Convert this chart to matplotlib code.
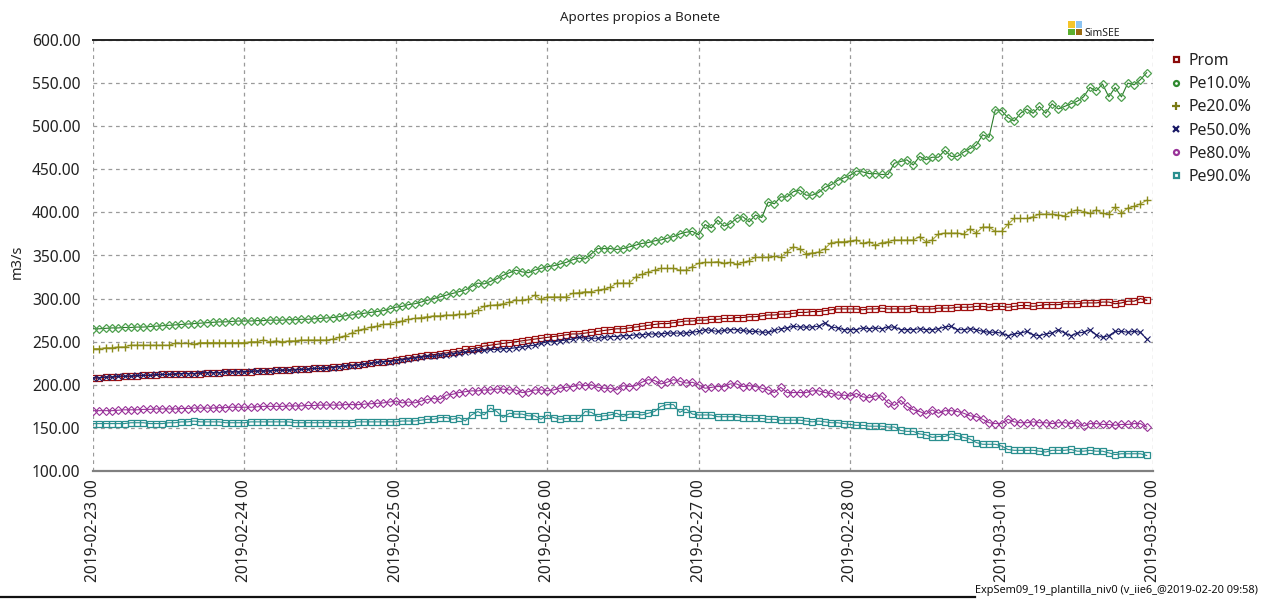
import matplotlib
matplotlib.use("Agg")
import matplotlib.pyplot as plt
import matplotlib.dates as mdates
from matplotlib.lines import Line2D
from matplotlib.patches import Rectangle
import pandas as pd

plt.rcParams['font.family'] = ['Noto Sans', 'DejaVu Sans']

title = "Aportes propios a Bonete"
ylabel = "m3/s"
footer = "ExpSem09_19_plantilla_niv0 (v_iie6_@2019-02-20 09:58)"
start = "2019-02-23 00:00"
end = "2019-03-02 00:00"
n_hours = 168
series_names = ["Prom", "Pe10.0%", "Pe20.0%", "Pe50.0%", "Pe80.0%", "Pe90.0%"]

prom = [
    208,208,209,209,209,210,210,210,211,211,211,212,212,212,213,213,213,213,214,214,214,215,215,215,
    215,215,216,216,216,217,217,217,218,218,218,219,219,220,221,221,222,223,223,224,225,226,227,228,
    229,230,231,232,233,234,235,236,237,238,239,241,242,243,245,246,247,248,249,250,251,252,253,254,
    255,256,257,258,259,259,260,261,262,263,264,265,265,266,267,268,269,270,271,271,272,273,274,274,
    275,275,276,276,277,277,278,278,279,279,280,281,281,282,282,283,284,284,285,285,286,287,288,288,
    288,288,287,288,288,289,288,288,288,288,289,288,288,288,289,289,289,290,290,290,291,291,290,291,
    291,290,291,292,292,291,292,293,293,293,294,294,294,295,295,295,296,296,294,295,297,297,300,298,
]
pe10 = [
    265,265,265.5,266,266,266.5,266.5,267,267,267.5,268,268.5,269,269.5,270,270.5,271,271.5,272,272.5,273,273,273.5,274,
    274,274,274.5,274.5,275,275,275,275.5,275.5,276,276,276.5,277,277.5,278,279,280,281,282,283,284,285,286,288,
    290,291,293,294,296,298,300,302,304,306,308,310,314,318,317,320,323,327,330,333,331,330,333,335,
    337,338,340,342,345,347,346,352,358,358,358,357,358,360,362,364,365,367,368,370,372,375,377,378,
    374,386,382,391,384,387,393,395,389,397,394,412,410,418,418,424,426,420,420,423,429,432,437,440,
    443,448,447,445,445,444,444,457,459,461,455,465,461,464,464,472,465,465,470,474,478,490,487,519,
    518,510,506,515,520,515,523,515,526,520,523,526,529,534,545,541,549,534,545,534,550,548,554,562,
]
pe20 = [
    242,242,243,243,244,244,246,246,246,246,246,246,246,248,248,248,247,249,249,249,249,249,249,249,
    249,250,250,252,250,251,250,251,251,252,252,252,252,252,253,255,257,260,263,265,267,268,270,271,
    273,274,276,277,278,279,280,280,281,281,282,282,283,287,291,292,293,294,296,298,298,299,304,299,
    302,302,302,302,306,307,308,308,310,311,313,318,318,318,325,328,331,333,335,335,335,333,333,337,
    341,342,342,343,341,342,340,342,344,348,348,348,349,348,354,360,358,352,353,354,358,365,366,366,
    367,368,364,366,362,365,366,368,368,368,368,372,366,368,375,376,376,376,375,381,376,383,383,378,
    378,386,393,393,393,395,398,398,398,397,396,401,403,401,399,403,399,398,406,399,405,407,410,414,
]
pe50 = [
    208,208,209,209,210,210,210,211,211,211,212,212,212,213,213,213,213,214,214,214,214,215,215,215,
    215,216,216,216,216,217,217,217,217,218,218,219,219,219,220,221,222,222,223,224,225,226,227,227,
    228,229,230,231,232,233,233,234,235,236,237,238,239,240,240,241,241,242,242,243,244,245,246,248,
    250,250,251,252,253,255,254,254,254,255,256,256,257,257,258,258,259,259,259,260,260,260,260,261,
    262,264,263,262,263,264,264,263,262,262,261,261,263,265,266,268,267,267,267,268,272,267,266,264,
    264,264,266,265,266,265,267,267,264,264,264,265,264,264,265,267,268,264,264,265,264,262,261,261,
    260,257,259,260,262,258,257,259,260,264,260,257,260,261,264,258,255,257,262,262,261,262,261,253,
]
pe80 = [
    170,170,170,170,170.5,171,171,171,171.5,171.5,172,172,172,172,172.5,172.5,173,173,173,173,173.5,173.5,174,174,
    174,174,174.5,175,175,175,175,175.5,175.5,175.5,176,176,176.5,176.5,176.5,176.5,177,177,177,177.5,178,178.5,179,180,
    181,179,180,179,181,183,184,183,188,189,191,192,193,193,194,194,195,195,194,194,191,192,194,194,
    193,194,196,197,198,200,199,200,197,196,196,194,199,198,199,203,206,205,201,203,206,204,202,203,
    200,196,197,198,198,201,201,198,199,198,196,194,191,197,191,191,191,191,193,193,191,190,188,188,
    187,190,186,185,187,187,179,176,182,175,171,169,166,171,167,170,170,169,167,164,163,160,156,155,
    155,160,157,156,156,157,156,156,155,156,156,155,156,152,155,155,154,154,153,154,154,155,155,151,
]
pe90 = [
    155,155,155,155,155,155,156,156,156,155,155,155,156,156,157,157,158,157,157,157,157,156,156,156,
    156,157,157,157,157,157,157,157,156,156,156,156,156,156,156,156,156,156,157,157,157,157,157,157,
    157,158,158,158,159,160,160,162,162,160,162,158,165,169,165,173,169,162,167,166,166,164,164,160,
    165,162,160,161,161,161,169,168,163,164,165,167,163,166,166,165,167,169,175,177,177,168,172,166,
    165,165,165,163,163,163,163,162,162,161,161,160,160,159,159,159,159,158,157,158,157,156,156,155,
    154,153,153,152,152,152,151,151,147,146,146,143,142,139,140,140,143,141,139,137,133,131,131,131,
    129,125,124,124,124,124,123,122,124,124,124,125,123,123,124,123,123,121,119,120,120,120,120,118,
]

values = [prom, pe10, pe20, pe50, pe80, pe90]
styles = [
    dict(color='#7a0000', marker='s', mec='#a01010', ms=4.0, mew=0.9),
    dict(color='#2a7a2a', marker='D', mec='#4ea04e', ms=4.0, mew=0.9),
    dict(color='#a8a838', marker='+', mec='#8a8a1a', ms=5.5, mew=1.0),
    dict(color='#1a1a66', marker='x', mec='#1a1a66', ms=4.0, mew=0.8),
    dict(color='#993399', marker='D', mec='#993399', ms=3.6, mew=0.8),
    dict(color='#2a8f8f', marker='s', mec='#2a8f8f', ms=4.2, mew=0.9),
]
legend_styles = [
    dict(marker='s', color='#8b0a0a', ms=3.6, mew=1.6),
    dict(marker='o', color='#2f8a2f', ms=3.6, mew=1.6),
    dict(marker='+', color='#7a7a14', ms=6.0, mew=1.6),
    dict(marker='x', color='#1a1a66', ms=4.6, mew=1.6),
    dict(marker='o', color='#993399', ms=3.6, mew=1.6),
    dict(marker='s', color='#2a8f8f', ms=3.6, mew=1.6),
]

W, H = 1271, 599
fig = plt.figure(figsize=(W / 100, H / 100), dpi=100)
L, R, T, B = 93, 1153, 40, 471
ax = fig.add_axes([L / W, 1 - B / H, (R - L) / W, (B - T) / H])

times = pd.date_range(start, periods=n_hours, freq="h")
for name, vals, st in zip(series_names, values, styles):
    ax.plot(times, vals, lw=0.8, color=st['color'], marker=st['marker'],
            mec=st['mec'], mfc='none', ms=st['ms'], mew=st['mew'], label=name)

ax.set_xlim(pd.Timestamp(start), pd.Timestamp(end))
ax.set_ylim(100, 600)
ax.set_yticks(range(100, 601, 50))
ax.yaxis.set_major_formatter(matplotlib.ticker.FormatStrFormatter('%.2f'))
ax.xaxis.set_major_locator(mdates.DayLocator())
ax.xaxis.set_major_formatter(mdates.DateFormatter('%Y-%m-%d %H'))
for lab in ax.get_xticklabels():
    lab.set_rotation(90)
ax.tick_params(axis='both', length=0, labelsize=11.2, colors='#222222')
ax.tick_params(axis='y', pad=9)
ax.tick_params(axis='x', pad=6)
ax.grid(True, color='#9a9a9a', linestyle=(0, (3, 3)), linewidth=0.9)
ax.set_axisbelow(True)
for s in ['left', 'right']:
    ax.spines[s].set_visible(False)
ax.spines['top'].set_color('#222222')
ax.spines['top'].set_linewidth(1.4)
ax.spines['bottom'].set_color('#808080')
ax.spines['bottom'].set_linewidth(1.6)

fig.text(640 / W, 1 - 18 / H, title, ha='center', va='center', fontsize=9.6, color='#222222')
fig.text(17 / W, 1 - 262 / H, ylabel, ha='center', va='center', rotation=90, fontsize=10.5, color='#222222')

handles = [Line2D([], [], linestyle='none', marker=ls['marker'], color=ls['color'],
                  mec=ls['color'], mfc='white', ms=ls['ms'], mew=ls['mew'])
           for ls in legend_styles]
leg = fig.legend(handles=handles, labels=series_names, loc='upper left',
                 bbox_to_anchor=(1164 / W, 1 - 45 / H),
                 frameon=False, fontsize=11.4, handlelength=0.5, handletextpad=0.55,
                 labelspacing=0.455, borderpad=0)
for t in leg.get_texts():
    t.set_color('#222222')

# SimSEE logo
for (x0, y0, c) in [(1068, 21, '#f5c52a'), (1075.5, 21, '#8cc4f2'), (1068, 28.5, '#5cb030'), (1075.5, 28.5, '#9a6b10')]:
    fig.add_artist(Rectangle((x0 / W, 1 - (y0 + 6.5) / H), 6.5 / W, 6.5 / H,
                             transform=fig.transFigure, color=c, lw=0))
fig.text(1084 / W, 1 - 33 / H, "SimSEE", ha='left', va='center', fontsize=7.5, color='#222222')

# footer
fig.add_artist(Line2D([0, 975 / W], [1 - 596.5 / H, 1 - 596.5 / H], transform=fig.transFigure,
                      color='#111111', lw=1.6))
fig.text(1258 / W, 1 - 591 / H, footer, ha='right', va='center', fontsize=7.9, color='#111111')

fig.savefig("out.png", dpi=100)
